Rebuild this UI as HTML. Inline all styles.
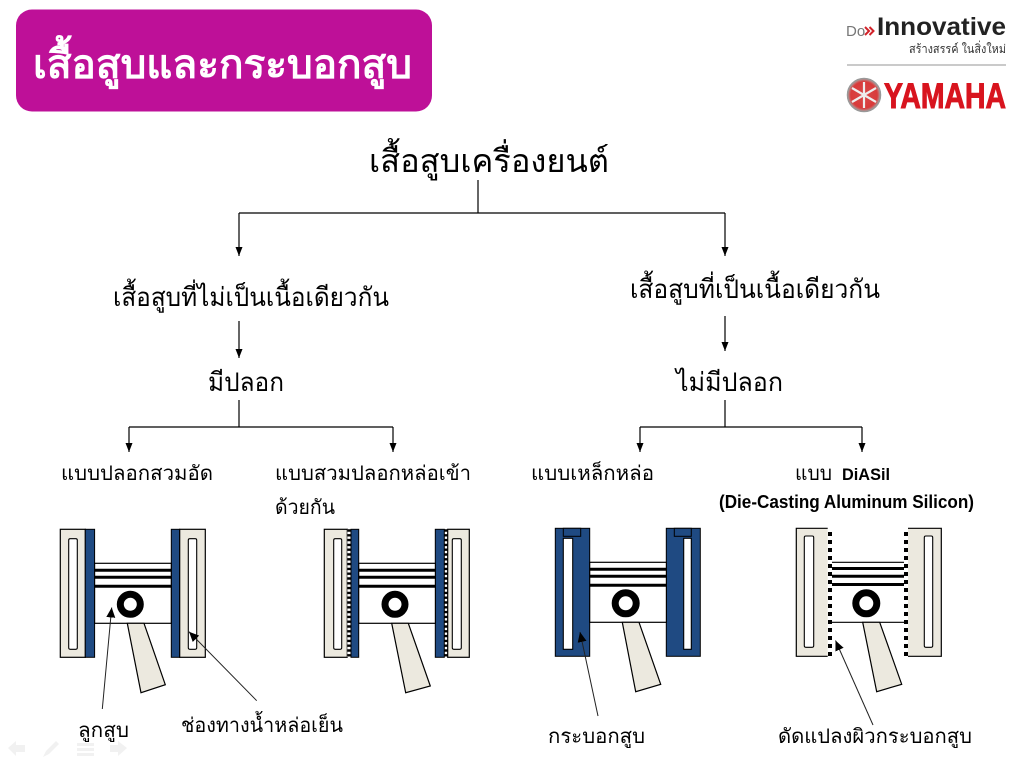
<!DOCTYPE html>
<html lang="th"><head><meta charset="utf-8"><title>เสื้อสูบและกระบอกสูบ</title>
<style>
html,body{margin:0;padding:0;background:#fff;width:1024px;height:768px;overflow:hidden}
svg{display:block}
text{font-family:"Liberation Sans","Noto Sans CJK SC",sans-serif;fill:#000}
.t{font-size:26px}
.s{font-size:20px}
.c{fill:#ECE9DF;stroke:#000;stroke-width:1.2}
.b{fill:#1F4A82;stroke:#000;stroke-width:1}
.w{fill:#fff;stroke:#000;stroke-width:1.1}
.l{stroke:#000;stroke-width:1.2;fill:none}
.r{stroke:#000;stroke-width:3;fill:none}
</style></head><body>
<svg width="1024" height="768" viewBox="0 0 1024 768" xmlns="http://www.w3.org/2000/svg">
<defs>
<marker id="a" markerUnits="userSpaceOnUse" markerWidth="10" markerHeight="10" refX="9" refY="4.5" orient="auto"><path d="M0 1L9 4.5L0 8Z" fill="#000"/></marker>
<marker id="k" markerUnits="userSpaceOnUse" markerWidth="12" markerHeight="12" refX="10" refY="5" orient="auto"><path d="M0 0.5L10 5L0 9.5Z" fill="#000"/></marker>
<radialGradient id="em" cx="50%" cy="50%" r="50%"><stop offset="0" stop-color="#D84A4A"/><stop offset="0.8" stop-color="#D93A3A"/><stop offset="1" stop-color="#B0A0A0"/></radialGradient>
<g id="piston">
<rect x="0" y="0" width="76.7" height="60" fill="#fff" stroke="#000" stroke-width="1.2"/>
<path class="r" d="M0 7H76.7M0 14H76.7M0 23H76.7"/>
</g>
</defs>

<rect x="16" y="9.5" width="416" height="102" rx="16" fill="#BE1098"/>
<text x="33" y="78" font-size="40" font-weight="bold" style="fill:#fff" textLength="379" lengthAdjust="spacingAndGlyphs">เสื้อสูบและกระบอกสูบ</text>

<!-- logo -->
<text x="846" y="36" font-size="15" style="fill:#777">Do</text>
<path d="M865 27l4 4-4 4M869.5 27l4 4-4 4" stroke="#D2232A" stroke-width="2" fill="none"/>
<text x="877" y="35" font-size="25" font-weight="bold" style="fill:#222" textLength="129" lengthAdjust="spacingAndGlyphs">Innovative</text>
<text x="909" y="53" font-size="12" style="fill:#333" textLength="97" lengthAdjust="spacingAndGlyphs">สร้างสรรค์ ในสิ่งใหม่</text>
<line x1="847" y1="65" x2="1006" y2="65" stroke="#aaa" stroke-width="1.2"/>
<circle cx="864" cy="95" r="16.5" fill="url(#em)" stroke="#999" stroke-width="1.5"/>
<path d="M864 82V108M852 88L876 102M852 102L876 88" stroke="#eee" stroke-width="2.2"/>
<text x="884" y="108" font-size="35" font-weight="bold" style="fill:#D8141E;stroke:#D8141E;stroke-width:1" textLength="122" lengthAdjust="spacingAndGlyphs">YAMAHA</text>

<!-- headings -->
<text x="369" y="172" font-size="32" textLength="240" lengthAdjust="spacingAndGlyphs">เสื้อสูบเครื่องยนต์</text>
<text x="113" y="306" class="t" textLength="276" lengthAdjust="spacingAndGlyphs">เสื้อสูบที่ไม่เป็นเนื้อเดียวกัน</text>
<text x="630" y="298" class="t" textLength="250" lengthAdjust="spacingAndGlyphs">เสื้อสูบที่เป็นเนื้อเดียวกัน</text>
<text x="208" y="391" class="t" textLength="76" lengthAdjust="spacingAndGlyphs">มีปลอก</text>
<text x="676" y="391" class="t" textLength="107" lengthAdjust="spacingAndGlyphs">ไม่มีปลอก</text>
<text x="61" y="480" class="s" textLength="152" lengthAdjust="spacingAndGlyphs">แบบปลอกสวมอัด</text>
<text x="275" y="480" class="s" textLength="196" lengthAdjust="spacingAndGlyphs">แบบสวมปลอกหล่อเข้า</text>
<text x="275" y="514" class="s" textLength="60" lengthAdjust="spacingAndGlyphs">ด้วยกัน</text>
<text x="531" y="480" class="s" textLength="123" lengthAdjust="spacingAndGlyphs">แบบเหล็กหล่อ</text>
<text x="795" y="480" class="s" textLength="37" lengthAdjust="spacingAndGlyphs">แบบ</text>
<text x="842" y="480" font-size="17" font-weight="bold" textLength="48" lengthAdjust="spacingAndGlyphs">DiASil</text>
<text x="719" y="508" font-size="18" font-weight="bold" textLength="255" lengthAdjust="spacingAndGlyphs">(Die-Casting Aluminum Silicon)</text>
<text x="78" y="737" class="s" textLength="51" lengthAdjust="spacingAndGlyphs">ลูกสูบ</text>
<text x="181" y="732" class="s" textLength="162" lengthAdjust="spacingAndGlyphs">ช่องทางน้ำหล่อเย็น</text>
<text x="548" y="743" class="s" textLength="97" lengthAdjust="spacingAndGlyphs">กระบอกสูบ</text>
<text x="778" y="743" class="s" textLength="194" lengthAdjust="spacingAndGlyphs">ดัดแปลงผิวกระบอกสูบ</text>

<!-- connectors -->
<g class="l">
<path d="M478 180V213M239 213H725"/>
<path d="M239 213V256" marker-end="url(#a)"/><path d="M725 213V256" marker-end="url(#a)"/>
<path d="M239 321V358" marker-end="url(#a)"/><path d="M725 316V351" marker-end="url(#a)"/>
<path d="M239 400V427M129 427H393M725 400V427M640 427H862"/>
<path d="M129 427V452" marker-end="url(#a)"/><path d="M393 427V452" marker-end="url(#a)"/>
<path d="M640 427V452" marker-end="url(#a)"/><path d="M862 427V452" marker-end="url(#a)"/>
</g>

<!-- piston 1 -->
<rect class="c" x="60.3" y="529.3" width="25" height="128"/>
<rect class="b" x="85.3" y="529.3" width="9.3" height="128"/>
<rect class="w" x="68.7" y="538.7" width="8.6" height="110.6" rx="1.5"/>
<rect class="b" x="171.3" y="529.3" width="8.4" height="128"/>
<rect class="c" x="179.7" y="529.3" width="25.6" height="128"/>
<rect class="w" x="188.3" y="538.7" width="8.4" height="110.6" rx="1.5"/>
<use href="#piston" x="94.6" y="563.3"/>
<circle cx="130.3" cy="604.3" r="10" fill="#fff" stroke="#000" stroke-width="7"/>
<polygon class="c" points="127.3,623.3 144,623.3 165.3,684.7 141,692.7"/>

<!-- piston 2 -->
<rect class="c" x="324.3" y="529.3" width="23" height="128"/>
<rect class="w" x="333.7" y="538.7" width="8" height="110.6" rx="1.5"/>
<rect x="347.3" y="529.3" width="3.7" height="128" fill="#fff"/>
<line x1="349" y1="529.3" x2="349" y2="657.3" stroke="#000" stroke-width="3.5" stroke-dasharray="2.4 2.4"/>
<rect class="b" x="351" y="529.3" width="7.7" height="128"/>
<rect class="b" x="435.3" y="529.3" width="9" height="128"/>
<line x1="446" y1="529.3" x2="446" y2="657.3" stroke="#000" stroke-width="3.5" stroke-dasharray="2.4 2.4"/>
<rect class="c" x="447.7" y="529.3" width="21.6" height="128"/>
<rect class="w" x="452.3" y="538.7" width="9" height="110.6" rx="1.5"/>
<use href="#piston" x="358.7" y="563.3"/>
<circle cx="395" cy="604.3" r="10" fill="#fff" stroke="#000" stroke-width="7"/>
<polygon class="c" points="391.7,623.3 408.3,623.3 430.3,686 405.7,692.7"/>

<!-- piston 3 -->
<rect class="b" x="555.3" y="528.3" width="34.4" height="128"/>
<rect class="b" x="563.3" y="528.3" width="17.4" height="8"/>
<rect class="w" x="563.3" y="538.3" width="9.4" height="111"/>
<rect class="b" x="666.3" y="528.3" width="34" height="128"/>
<rect class="b" x="674.3" y="528.3" width="17" height="8"/>
<rect class="w" x="683.7" y="538.3" width="7.6" height="111"/>
<use href="#piston" x="589.7" y="562.3"/>
<circle cx="625.7" cy="603.3" r="10.5" fill="#fff" stroke="#000" stroke-width="7"/>
<polygon class="c" points="622.3,622.3 639,622.3 660.7,684.3 635.7,691.7"/>

<!-- piston 4 -->
<rect x="796.3" y="528.3" width="31.4" height="128" fill="#ECE9DF"/>
<path d="M827.7 528.3H796.3V656.3H827.7" class="l"/>
<rect class="w" x="804.3" y="536" width="9.4" height="111.3" rx="1.5"/>
<rect x="908" y="528.3" width="33.3" height="128" fill="#ECE9DF"/>
<path d="M908 528.3H941.3V656.3H908" class="l"/>
<rect class="w" x="924.3" y="536" width="8.4" height="111.3" rx="1.5"/>
<rect x="832" y="562.3" width="72" height="60" fill="#fff"/>
<path class="l" d="M832 562.3H904M832 622.3H904"/>
<path class="r" d="M832 568.5H904M832 576.3H904M832 584.5H904"/>
<line x1="830" y1="532" x2="830" y2="656.3" stroke="#000" stroke-width="4" stroke-dasharray="4 4"/>
<line x1="906" y1="532" x2="906" y2="656.3" stroke="#000" stroke-width="4" stroke-dasharray="4 4"/>
<circle cx="866.3" cy="603.3" r="10.5" fill="#fff" stroke="#000" stroke-width="7"/>
<polygon class="c" points="862.7,622.3 879.7,622.3 901.7,684.3 876.7,691.7"/>

<!-- callouts -->
<g class="l" style="stroke-width:1;stroke:#222">
<path d="M102.3 709L111.7 607.5" marker-end="url(#k)"/>
<path d="M256.7 700.7L189 631.7" marker-end="url(#k)"/>
<path d="M598 716L580 632" marker-end="url(#k)"/>
<path d="M873 725L835.5 640.5" marker-end="url(#k)"/>
</g>

<!-- nav -->
<g fill="#F1F1F1">
<path d="M8 748L16 741V745H25V752H16V756Z"/>
<path d="M43 757L46 751L56 741L59 744L49 754Z"/>
<path d="M77 743H94V746H77ZM77 748H94V751H77ZM77 753H94V756H77Z"/>
<path d="M118 741L127 748L118 756V752H110V745H118Z"/>
</g>
</svg>
</body></html>
